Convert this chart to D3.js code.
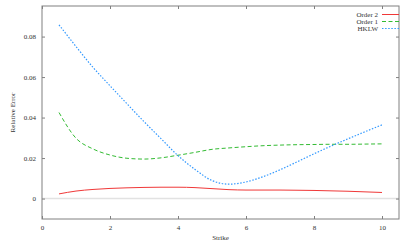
<!DOCTYPE html>
<html>
<head>
<meta charset="utf-8">
<script src="https://cdn.jsdelivr.net/npm/d3@7"></script>
<style>
  body { margin: 0; background: #fff; }
  text { font-family: "Liberation Serif", "DejaVu Serif", serif; font-size: 7px; fill: #333; }
</style>
</head>
<body>
<div id="chart"></div>
<script>
const strike = [0.5, 1, 1.5, 2, 2.5, 3, 3.5, 4, 4.5, 5, 5.5, 6, 6.5, 7, 7.5, 8, 8.5, 9, 9.5, 10];
const order2 = [0.0023, 0.0037, 0.0045, 0.0050, 0.0053, 0.0055, 0.0056, 0.0056, 0.0054, 0.0049,
                0.0044, 0.0042, 0.0042, 0.0042, 0.0041, 0.0040, 0.0038, 0.0036, 0.0033, 0.0030];
const order1 = [0.0425, 0.0298, 0.0245, 0.0215, 0.0199, 0.0195, 0.0201, 0.0214, 0.0228, 0.0243,
                0.0250, 0.0256, 0.0261, 0.0264, 0.0266, 0.0267, 0.0268, 0.0268, 0.0269, 0.0270];
const hklw = [0.0858, 0.0751, 0.0648, 0.0557, 0.0468, 0.0380, 0.0296, 0.0212, 0.0144, 0.0089,
              0.0071, 0.0082, 0.0108, 0.0142, 0.0181, 0.0221, 0.0259, 0.0295, 0.0330, 0.0364];
const xTicks = [0, 2, 4, 6, 8, 10];
const yTicks = [0, 0.02, 0.04, 0.06, 0.08];

const series = [
    { name: "Order 2", values: order2, color: "#f03838", dash: null, w: 1 },
    { name: "Order 1", values: order1, color: "#33bb33", dash: "4,2.5", w: 1 },
    { name: "HKLW", values: hklw, color: "#3399ff", dash: "1.5,1.6", w: 1.2 }
];

const W = 407, H = 244;
const margin = { top: 6, right: 8, bottom: 25, left: 42 };
const width = W - margin.left - margin.right;
const height = H - margin.top - margin.bottom;

const svg = d3.select("#chart").append("svg")
    .attr("width", W)
    .attr("height", H)
    .append("g")
    .attr("transform", `translate(${margin.left},${margin.top})`);

const x = d3.scaleLinear().domain([0, 10.5]).range([0, width]);
const y = d3.scaleLinear().domain([-0.0101, 0.0951]).range([height, 0]);

// zero line
svg.append("line")
    .attr("x1", 0).attr("x2", width)
    .attr("y1", y(0)).attr("y2", y(0))
    .attr("stroke", "#e2e2e2")
    .attr("stroke-width", 1.5);

const axisColor = "#808080";
function styleAxis(g) {
    g.select(".domain").remove();
    g.selectAll(".tick line").attr("stroke", axisColor);
    g.selectAll(".tick text").attr("fill", "#333").style("font-size", "7px");
}

svg.append("g")
    .attr("transform", `translate(0,${height})`)
    .call(d3.axisBottom(x).tickValues(xTicks).tickSize(-3).tickPadding(6).tickFormat(d3.format("d")))
    .call(styleAxis);

svg.append("g")
    .call(d3.axisTop(x).tickValues(xTicks).tickSize(-3).tickFormat(""))
    .call(styleAxis);

svg.append("g")
    .call(d3.axisLeft(y).tickValues(yTicks).tickSize(-3).tickPadding(6)
        .tickFormat(d => d === 0 ? "0" : d3.format(".2f")(d)))
    .call(styleAxis);

svg.append("g")
    .attr("transform", `translate(${width},0)`)
    .call(d3.axisRight(y).tickValues(yTicks).tickSize(-3).tickFormat(""))
    .call(styleAxis);

svg.append("rect")
    .attr("width", width)
    .attr("height", height)
    .attr("fill", "none")
    .attr("stroke", axisColor)
    .attr("stroke-width", 1);

const line = d3.line()
    .x((d, i) => x(strike[i]))
    .y(d => y(d))
    .curve(d3.curveMonotoneX);

series.forEach(s => {
    svg.append("path")
        .datum(s.values)
        .attr("d", line)
        .attr("fill", "none")
        .attr("stroke", s.color)
        .attr("stroke-width", s.w)
        .attr("stroke-dasharray", s.dash);
});

// legend
const legend = svg.append("g").attr("transform", `translate(${width - 21},8.5)`);
series.forEach((s, i) => {
    const row = legend.append("g").attr("transform", `translate(0,${i * 7})`);
    row.append("text")
        .attr("x", 0)
        .attr("y", 2.3)
        .attr("text-anchor", "end")
        .text(s.name);
    row.append("line")
        .attr("x1", 4).attr("x2", 21)
        .attr("stroke", s.color)
        .attr("stroke-width", s.w)
        .attr("stroke-dasharray", s.dash);
});

svg.append("text")
    .attr("x", width / 2)
    .attr("y", height + 21)
    .attr("text-anchor", "middle")
    .text("Strike");

svg.append("text")
    .attr("transform", "rotate(-90)")
    .attr("x", -(y(0.0425)))
    .attr("y", -27)
    .attr("text-anchor", "middle")
    .text("Relative Error");
</script>
</body>
</html>
